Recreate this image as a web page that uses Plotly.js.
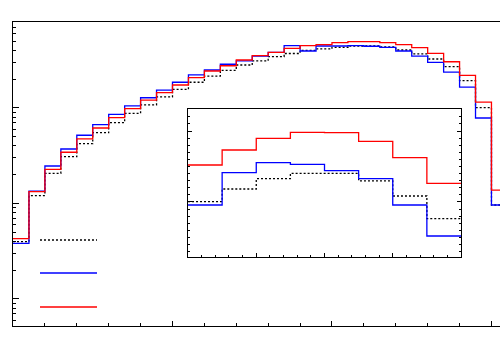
<!DOCTYPE html>
<html>
<head>
<meta charset="utf-8">
<script src="https://cdn.plot.ly/plotly-3.0.1.min.js"></script>
<style>
html,body{margin:0;padding:0;overflow:hidden;background:#fff;}
#chart{width:540px;height:350px;}
</style>
</head>
<body>
<div id="chart"></div>
<script>
// Main histogram: bin edges start at 0, width 0.1
var mainEdges = [0,0.1,0.2,0.3,0.4,0.5,0.6,0.7,0.8,0.9,1.0,1.1,1.2,1.3,1.4,1.5,1.6,1.7,1.8,1.9,2.0,2.1,2.2,2.3,2.4,2.5,2.6,2.7,2.8,2.9,3.0,3.1];
var mainBlack = [3.98,12.1,20.7,30.9,42.3,55.1,70.2,88.0,108,131,157,186,216,248,282,311,345,372,402,415,432,446,446,435,405,368,326,271,193,101,9.64];
var mainBlue  = [3.83,13.5,24.7,37.2,51.8,66.9,85.9,105,128,154,186,222,250,287,311,350,383,449,395,446,446,449,443,432,395,350,301,237,165,78.6,9.64];
var mainRed   = [4.28,13.3,22.8,34.4,47.4,61.7,79.1,98.3,121,145,174,208,244,277,318,353,383,422,449,460,483,495,495,483,460,428,374,305,220,115,13.8];

// Inset histogram: bin edges 0..4, width 0.5
var insetEdges = [0,0.5,1.0,1.5,2.0,2.5,3.0,3.5,4.0];
var insetBlack = [0.8008,0.8366,0.8656,0.8808,0.8808,0.8592,0.8169,0.7530];
var insetBlue  = [0.7915,0.8825,0.9107,0.9062,0.8882,0.8656,0.7915,0.7042];
var insetRed   = [0.9042,0.9465,0.9794,0.9963,0.9952,0.9710,0.9248,0.8527];

function stepY(v){ return v.concat([v[v.length-1]]); }

var lw = 1.3;
function tr(x, y, color, dash, xa, ya){
  return {x:x, y:stepY(y), type:'scatter', mode:'lines',
    line:{shape:'hv', color:color, width:lw, dash:dash},
    xaxis:xa, yaxis:ya, hoverinfo:'skip', showlegend:false};
}

var data = [
  tr(mainEdges, mainBlack, '#000000', '2px,2px', 'x', 'y'),
  tr(mainEdges, mainBlue,  '#0000ff', 'solid', 'x', 'y'),
  tr(mainEdges, mainRed,   '#ff0000', 'solid', 'x', 'y'),
  tr(insetEdges, insetBlack, '#000000', '2px,2px', 'x2', 'y2'),
  tr(insetEdges, insetBlue,  '#0000ff', 'solid', 'x2', 'y2'),
  tr(insetEdges, insetRed,   '#ff0000', 'solid', 'x2', 'y2')
];

var axBase = {showgrid:false, zeroline:false, showticklabels:false,
  showline:true, linecolor:'#000', linewidth:1, ticks:'inside', tickcolor:'#000', tickwidth:1};

var layout = {
  width:540, height:350,
  margin:{l:13, r:16, t:22, b:24},
  paper_bgcolor:'#fff', plot_bgcolor:'#fff',
  showlegend:false,
  xaxis: Object.assign({}, axBase, {range:[0,3.204], dtick:1, ticklen:5, mirror:true,
    minor:{dtick:0.2, ticklen:3, ticks:'inside', tickcolor:'#000'}}),
  yaxis: Object.assign({}, axBase, {type:'log', range:[-0.283,2.9005], dtick:1, ticklen:6, mirror:true,
    minor:{dtick:'D1', ticklen:3, ticks:'inside', tickcolor:'#000'}}),
  xaxis2: Object.assign({}, axBase, {domain:[0.3425,0.8767], anchor:'y2', range:[0,4], dtick:1, ticklen:4, mirror:true,
    minor:{dtick:0.2, ticklen:2, ticks:'inside', tickcolor:'#000'}}),
  yaxis2: Object.assign({}, axBase, {domain:[0.2270,0.7138], anchor:'x2', range:[0.645,1.062], dtick:0.2, ticklen:4, mirror:'ticks',
    minor:{dtick:0.02, ticklen:2, ticks:'inside', tickcolor:'#000'}}),
  shapes:[
    {type:'line', xref:'paper', yref:'paper', x0:0.0528, x1:0.1644, y0:0.2829, y1:0.2829, line:{color:'#000', width:lw, dash:'2px,2px'}},
    {type:'line', xref:'paper', yref:'paper', x0:0.0528, x1:0.1644, y0:0.1743, y1:0.1743, line:{color:'#0000ff', width:lw}},
    {type:'line', xref:'paper', yref:'paper', x0:0.0528, x1:0.1644, y0:0.0625, y1:0.0625, line:{color:'#ff0000', width:lw}}
  ]
};

Plotly.newPlot('chart', data, layout, {staticPlot:true, displayModeBar:false});
</script>
</body>
</html>
